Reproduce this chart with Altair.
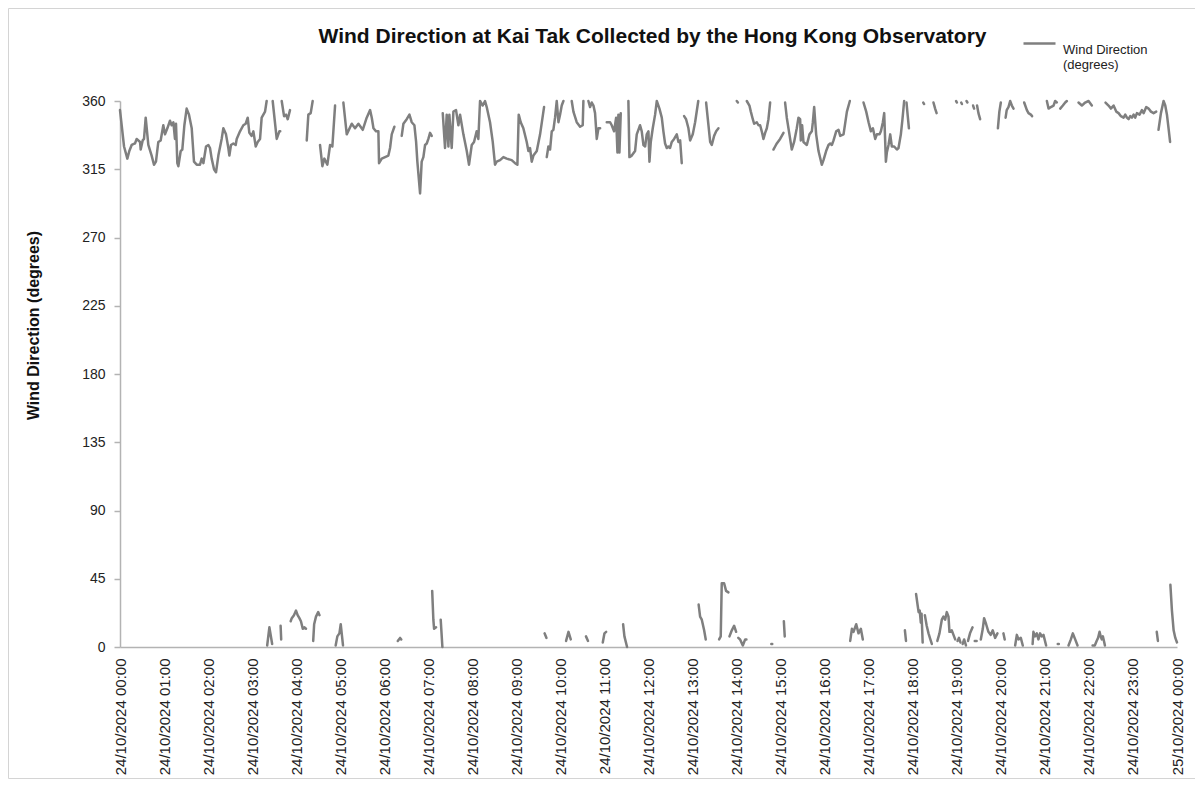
import altair as alt
import pandas as pd

# Minutes after 24/10/2024 00:00; None marks a break in the plotted line
minutes = [
    0, 5.5, 10, 12.7, 15.9, 20.4, 22.7, 27.3, 28.2, 30.9, 32.7, 35, 38.6, 43.1, 46.3, 49, 52.2, 55.4, 59, 61.3, 64.5, 68.1, 70.4, 72.7, 74.9, 76.3, 78.1, 79.5, 82.7, 84.9, 87.7, 90.8, 94, 97.7, 100.8, 104.5, 109, 111.3, 113.6, 117.2, 120.4, 122.6, 124.9, 128.1, 130.8, 134, 138.5, 140.8, 144.4, 147.6, 149, 151.2, 154.4, 157.6, 159, 163.5, 168, 171.2, 174, 176.2, 179.4, 181.7, 184.9, 187.6, 190.8, 193, 195.3, 197.6, 199.8, None,
    200.5, 203.5, 207.3, None,
    208, 213.5, 217.1, 218.3, None,
    218.8, 219.6, None,
    220.3, 223.5, 226.2, 228.5, 231.6, None,
    232.5, 234, 237, 239.8, 242, 244.4, 246.5, 249, 251, 253.4, None,
    254.4, 256.6, 259.8, 262.5, None,
    263.2, 264.5, 267, 270, 271.8, None,
    272.5, 275.7, 278.4, 282.5, 286.2, 289.3, 293, None,
    293.8, 296.1, 298.9, 300.7, 302.5, 303.8, None,
    304.3, 308.9, 315.7, 320.2, 324.8, 330.7, 336.1, 340.7, 343, 345.3, 348.9, 352, 352.9, 356.6, 361.1, 365.6, 367.9, 370.2, 373.8, None,
    378.4, 381.6, 383.2, None,
    383.8, 386.1, 390.6, 394.3, 397.4, 401.1, 403.4, 405.1, 408.8, 411, 413.3, 415.6, 417.9, 420.1, 422.4, 424.7, None,
    425.3, 426.9, 427.9, 430.6, None,
    436.9, 439.2, None,
    439.7, 442.8, 445.1, 447.4, 448.7, 451.9, 454.2, 457.8, 461, 463.3, 467.8, 472.4, 475.5, 479.2, 482.3, 485.9, 488.2, 490.5, 494.1, 497.3, 499.6, 504.1, 507.8, 510.9, 513.2, 517.8, 522.3, 526.8, 533.6, 538.2, 541.4, 543.2, 545.9, 549.5, 554.1, 556.4, 558.6, 560.9, 563.2, 567.8, 572.3, 577.7, None,
    578.4, 581, None,
    581.4, 583.6, 585.9, 588.2, 590.4, 592.7, 595, 597.3, 599.5, 601.8, 604.1, None,
    607.7, 611, 614.1, None,
    615.4, 617.7, 622.2, 626.8, 630.4, 631.3, None,
    634.8, 637.6, None,
    638.1, 640.4, 642.7, 645, 647.2, 649.5, 651.8, 654.1, None,
    657.7, 660, 662.3, None,
    663.1, 667.7, 669.9, 673.1, 675.9, 677.7, 679, 680.4, 682.2, None,
    685.4, 687.2, 690.8, None,
    692.6, 694, 697.2, 701.7, 704, 708.5, 710.8, 713.1, 715.4, 717.6, 719.9, 721.3, 723.1, 725.8, 729, 731.3, 734.9, 738.1, 740.3, 742.6, 744.9, 747.2, 749.4, 751.7, 754.9, 758.5, 760.8, 763.1, 765.3, None,
    768.5, 771.2, 774.4, 776.7, 780.3, 783.5, 787.8, None,
    788.3, 790.3, 792.6, 795.8, 798, None,
    798.5, 801.7, 804, 806.2, 809.4, 812.2, 815.3, None,
    816.2, 818.4, 819.8, 823, 825.7, 828.9, None,
    830.3, 833.5, 836.6, 839.4, None,
    840.2, 841.8, None,
    842.3, 844.8, 848.5, 851.7, 853.4, None,
    853.9, 857.5, 859.4, 862.1, 863.9, 867.5, 869.8, 872.1, 874.3, 876.6, 878.9, 881.2, 883.4, 885.7, None,
    887.3, 888.6, None,
    890.2, 892.5, 894.8, 899.3, 903.9, None,
    904.4, 905.6, None,
    906.1, 908.4, 912, 915.2, 918.4, 922, 924.3, 926.6, 927.5, 929.3, 931.1, 935.7, 939.3, 942.5, 943.9, 945.7, 948.4, 951.6, 956.1, 958.4, 962, 965.2, 967.5, 969.8, 972.1, 975.7, 978.9, 981.2, 985.7, 990.3, 994.3, None,
    994.8, 997.1, 999.3, 1003, 1006.1, 1009.3, 1012, None,
    1012.9, 1016.6, 1019.8, 1023, 1025.7, 1028.9, 1031.1, 1034.8, 1036.6, 1039.3, 1041.1, 1043.4, 1044.7, 1047, 1049.3, 1051.5, 1054.7, 1058.4, 1060.6, 1063.8, 1066, 1068.3, None,
    1069.3, 1070.8, None,
    1071.5, 1073.2, 1074.8, None,
    1084.5, 1086.5, 1088, 1089.5, 1091, 1092, 1093.5, None,
    1094.3, 1095.5, None,
    1096.5, 1099, 1101.5, 1104, 1106, None,
    1108.2, 1110.5, 1112.5, None,
    1113.5, 1116.4, 1119.6, 1121.8, 1124.1, 1126.4, 1128.7, 1130, 1133.2, 1135.5, 1137.8, None,
    1139, 1140.2, None,
    1141, 1143, 1145, None,
    1146, 1147, None,
    1148, 1150, 1152.5, None,
    1153.2, 1154.5, None,
    1155.3, 1158, 1161.5, None,
    1162.2, 1163.6, None,
    1164.5, 1167, None,
    1167.6, 1169.5, 1171.8, None,
    1172.7, 1175.4, 1177.2, 1180, 1183.1, 1186.3, 1189, 1192.2, 1195.4, None,
    1196, 1198, 1200, None,
    1203.5, 1205.3, None,
    1206.5, 1208, 1210.4, 1212.7, 1215, 1217.3, None,
    1219.5, 1221.8, 1224.1, 1227.2, 1229.9, None,
    1231.8, 1235.5, 1237.7, 1240.9, 1242.6, None,
    1243.3, 1244.4, 1246.7, 1249, 1251.2, 1253.5, 1255.8, 1258.1, 1261.7, None,
    1262.7, 1265, 1268.2, 1271.8, 1274, 1276.3, None,
    1277.5, 1279, None,
    1280.9, 1284.5, 1287.7, 1290, None,
    1292.2, 1295.4, 1298.1, 1301.3, 1304.5, None,
    1305.8, 1310.4, 1314.9, 1319.5, 1324, None,
    1325, 1328, 1330.5, 1332.5, 1334.5, 1336, 1337.5, 1339, 1340.5, 1341.8, None,
    1342.6, 1346.7, 1349.9, 1353.6, 1357.2, 1360.4, 1363.6, 1367.2, 1369.5, 1371.8, 1374, 1376.3, 1378.6, 1380.9, 1383.1, 1385.4, 1389, 1392.2, 1394.5, 1398.1, 1401.3, 1404.5, 1408.1, 1411.7, None,
    1412.4, 1414, None,
    1414.8, 1418.1, 1421.7, 1424, 1426.3, 1428.5, 1430.6, None,
    1431, 1433.1, 1435.4, 1437.7, 1440,
]

# Wind direction in degrees, aligned with `minutes`
direction = [
    354, 330, 322, 327, 331, 332, 335, 333, 328, 334, 335, 349, 331, 324, 318, 320, 333, 334, 344, 338, 342, 347, 344, 346, 335, 345, 319, 317, 327, 328, 344, 355, 351, 342, 320, 318, 318, 322, 319, 330, 331, 329, 322, 315, 313, 324, 335, 342, 338, 329, 324, 331, 332, 331, 335, 340, 344, 345, 349, 339, 337, 340, 330, 333, 335, 349, 351, 353, 360, None,
    1, 13, 2, None,
    360, 335, 340, 340, None,
    14, 5, None,
    360, 350, 351, 348, 354, None,
    17, 19, 21, 24, 21, 19, 17, 12, 13, 12, None,
    334, 351, 352, 360, None,
    4, 15, 20, 23, 21, None,
    331, 317, 322, 318, 331, 330, 357, None,
    1, 7, 9, 15, 7, 1, None,
    359, 338, 345, 342, 345, 341, 349, 354, 349, 342, 340, 340, 319, 322, 323, 324, 329, 338, 343, None,
    4, 6, 5, None,
    337, 345, 348, 351, 346, 344, 333, 320, 299, 320, 323, 331, 332, 335, 339, 337, None,
    37, 18, 12, 13, None,
    18, 0, None,
    352, 329, 351, 330, 351, 329, 353, 354, 344, 351, 338, 327, 318, 331, 333, 340, 335, 360, 357, 360, 356, 346, 333, 318, 320, 321, 323, 322, 321, 319, 318, 351, 346, 342, 333, 327, 329, 320, 324, 327, 338, 356, None,
    9, 6, None,
    323, 330, 328, 340, 341, 349, 360, 346, 351, 357, 360, None,
    4, 10, 5, None,
    360, 353, 346, 343, 344, 360, None,
    7, 4, None,
    360, 356, 359, 357, 352, 335, 342, 342, None,
    3, 9, 10, None,
    346, 346, 344, 340, 349, 326, 351, 326, 352, None,
    15, 7, 0, None,
    360, 323, 324, 327, 338, 344, 340, 331, 330, 338, 340, 320, 333, 342, 351, 360, 355, 349, 340, 332, 329, 330, 329, 333, 335, 338, 333, 334, 319, None,
    350, 348, 342, 334, 338, 346, 360, None,
    28, 20, 18, 11, 5, None,
    359, 344, 333, 331, 337, 340, 342, None,
    5, 7, 42, 42, 37, 36, None,
    7, 11, 14, 10, None,
    360, 359, None,
    6, 5, 1, 5, 5, None,
    360, 357, 353, 348, 345, 346, 344, 344, 340, 335, 339, 342, 348, 359, None,
    2, 2, None,
    328, 330, 332, 335, 339, None,
    17, 7, None,
    359, 349, 338, 328, 333, 342, 349, 348, 334, 344, 333, 331, 338, 340, 346, 356, 338, 327, 318, 321, 327, 331, 332, 331, 334, 340, 341, 337, 338, 353, 360, None,
    4, 12, 10, 15, 9, 12, 5, None,
    359, 353, 346, 340, 342, 335, 338, 338, 340, 346, 352, 320, 326, 331, 338, 330, 330, 328, 329, 338, 348, 360, None,
    11, 4, None,
    359, 350, 342, None,
    35, 28, 23, 24, 16, 22, 3, None,
    359, 358, None,
    21, 14, 9, 5, 2, None,
    359, 355, 352, None,
    4, 9, 18, 20, 18, 23, 20, 10, 11, 8, 5, None,
    360, 359, None,
    4, 6, 3, None,
    359, 358, None,
    2, 5, 1, None,
    360, 359, None,
    4, 9, 13, None,
    357, 355, None,
    4, 4, None,
    357, 352, 348, None,
    5, 12, 19, 15, 10, 8, 11, 6, 9, None,
    342, 353, 359, None,
    9, 5, None,
    349, 354, 356, 360, 357, 355, None,
    1, 8, 5, 6, 1, None,
    359, 354, 352, 351, 350, None,
    2, 10, 7, 9, 5, 9, 7, 8, 1, None,
    360, 355, 356, 357, 360, 359, None,
    2, 2, None,
    355, 357, 359, 360, None,
    1, 5, 9, 5, 1, None,
    359, 357, 359, 360, 357, None,
    1, 1, 4, 6, 10, 7, 5, 7, 4, 1, None,
    359, 357, 355, 357, 353, 352, 350, 349, 351, 349, 348, 350, 349, 351, 349, 352, 351, 354, 352, 356, 355, 353, 352, 353, None,
    10, 4, None,
    341, 352, 360, 357, 351, 342, 333, None,
    41, 24, 11, 6, 3,
]

series_name = "Wind Direction|(degrees)"
hour_ticks = list(range(0, 1441, 60))
hour_labels = [f"24/10/2024 {h:02d}:00" for h in range(24)] + ["25/10/2024 00:00"]
y_ticks = [0, 45, 90, 135, 180, 225, 270, 315, 360]

assert len(minutes) == len(direction)

rows = []
seg = 0
for t, d in zip(minutes, direction):
    if t is None or d is None:
        seg += 1
        continue
    rows.append({"minute": t, "direction": d, "segment": seg, "series": series_name})
df = pd.DataFrame(rows)

label_expr = "[" + ",".join("'%s'" % s for s in hour_labels) + "][round(datum.value / 60)]"

FONT = "Liberation Sans"
TXT = "#222222"
AXIS = "#b3b3b3"

# light chart-area border (decoration only)
frame = alt.Chart(pd.DataFrame({"frame": [0]})).mark_rect(
    fillOpacity=0, stroke="#d4d4d4", strokeWidth=1
).encode(
    x=alt.value(-111.5), x2=alt.value(1085), y=alt.value(-92.5), y2=alt.value(677.5)
)

line = alt.Chart(df).mark_line(
    strokeWidth=2.5, strokeJoin="round", strokeCap="round"
).encode(
    x=alt.X(
        "minute:Q",
        scale=alt.Scale(domain=[0, 1440], nice=False, zero=False),
        axis=alt.Axis(
            values=hour_ticks, labelExpr=label_expr, labelAngle=270,
            title=None, ticks=False, tickSize=0, grid=False, labelPadding=11,
            labelFontSize=15, labelFont=FONT, labelColor=TXT,
            labelOverlap=False, labelFlush=False, labelBound=False,
            domainColor=AXIS, domainWidth=1.5,
        ),
    ),
    y=alt.Y(
        "direction:Q",
        scale=alt.Scale(domain=[0, 360], nice=False),
        axis=alt.Axis(
            values=y_ticks, title="Wind Direction (degrees)", grid=False,
            tickSize=6, tickColor=AXIS, tickWidth=1.5, labelPadding=9,
            labelFontSize=14, labelFont=FONT, labelColor=TXT,
            domainColor=AXIS, domainWidth=1.5, labelOverlap=False,
            titleFont=FONT, titleFontSize=16, titleFontWeight="bold", titleColor="#111111",
            titleX=-87, titleY=224, titleAngle=270, titleAlign="center", titleBaseline="middle",
        ),
    ),
    color=alt.Color(
        "series:N",
        scale=alt.Scale(domain=[series_name], range=["#7f7f7f"]),
        legend=alt.Legend(
            orient="none", legendX=902, legendY=-75, title=None,
            symbolType="stroke", symbolSize=1024, symbolStrokeWidth=2.5,
            labelFontSize=13, labelFont=FONT, labelColor=TXT, labelOffset=6,
            labelBaseline="top", labelExpr="split(datum.label, '|')", padding=0,
            labelLimit=300,
        ),
    ),
    detail="segment:N",
)

chart = alt.layer(frame, line).properties(
    width=1057,
    height=546,
    title=alt.TitleParams(
        "Wind Direction at Kai Tak Collected by the Hong Kong Observatory",
        font=FONT, fontSize=21, fontWeight="bold", color="#111111",
        anchor="middle", offset=-56, baseline="alphabetic", dx=4,
    ),
    autosize=alt.AutoSizeParams(type="none"),
    padding={"left": 112, "top": 93, "right": 18, "bottom": 132},
    background="white",
).configure_view(stroke=None)

chart.save("out.html", embed_options={"renderer": "svg", "actions": False})
